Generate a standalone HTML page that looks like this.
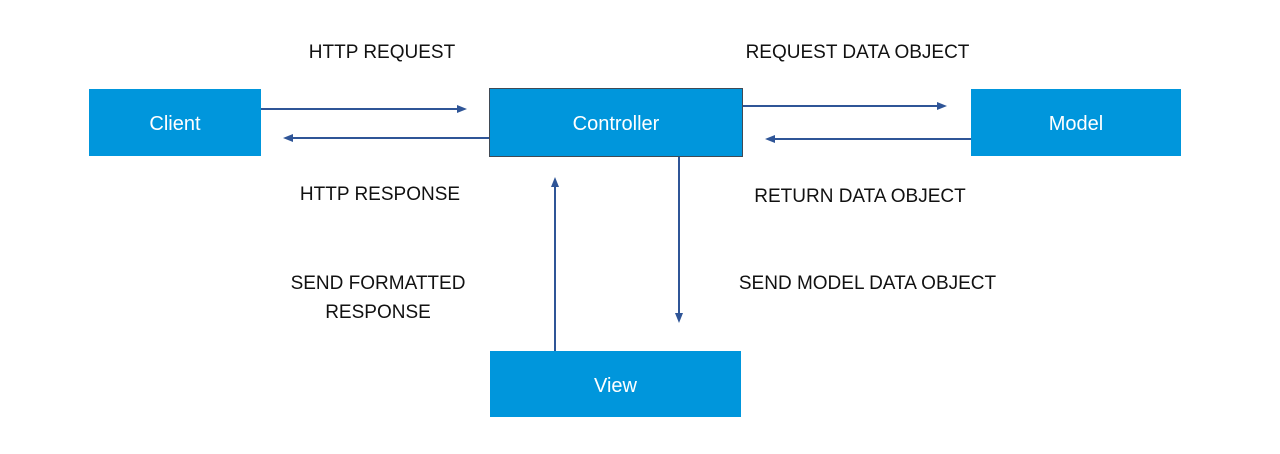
<!DOCTYPE html>
<html><head><meta charset="utf-8"><style>
body{margin:0;width:1280px;height:454px;background:#fff;position:relative;font-family:"Liberation Sans",sans-serif;overflow:hidden}
.b{position:absolute;background:#0096dc;color:#fff;font-size:20px;display:flex;align-items:center;justify-content:center;box-sizing:border-box;padding-top:4px}
.t{position:absolute;font-size:19px;color:#111;line-height:29px;text-align:center}
svg{position:absolute;left:0;top:0}
</style></head><body>
<div class="b" style="left:89px;top:89px;width:172px;height:67px">Client</div>
<div class="b" style="left:489px;top:88px;width:254px;height:69px;border:1px solid #404a55">Controller</div>
<div class="b" style="left:971px;top:89px;width:210px;height:67px">Model</div>
<div class="b" style="left:490px;top:351px;width:251px;height:66px">View</div>
<svg width="1280" height="454"><g stroke="#2f5597" stroke-width="2" fill="#2f5597">
<line x1="261" y1="109" x2="460" y2="109"/><polygon points="467,109 457,105 457,113" stroke="none"/>
<line x1="489" y1="138" x2="290" y2="138"/><polygon points="283,138 293,134 293,142" stroke="none"/>
<line x1="743" y1="106" x2="940" y2="106"/><polygon points="947,106 937,102 937,110" stroke="none"/>
<line x1="971" y1="139" x2="772" y2="139"/><polygon points="765,139 775,135 775,143" stroke="none"/>
<line x1="679" y1="157" x2="679" y2="316"/><polygon points="679,323 675,313 683,313" stroke="none"/>
<line x1="555" y1="351" x2="555" y2="184"/><polygon points="555,177 551,187 559,187" stroke="none"/>
</g></svg>
<div class="t" style="left:282px;top:38px;width:200px">HTTP REQUEST</div>
<div class="t" style="left:730px;top:38px;width:255px">REQUEST DATA OBJECT</div>
<div class="t" style="left:280px;top:180px;width:200px">HTTP RESPONSE</div>
<div class="t" style="left:735px;top:182px;width:250px">RETURN DATA OBJECT</div>
<div class="t" style="left:268px;top:269px;width:220px">SEND FORMATTED<br>RESPONSE</div>
<div class="t" style="left:720px;top:269px;width:295px">SEND MODEL DATA OBJECT</div>
</body></html>
